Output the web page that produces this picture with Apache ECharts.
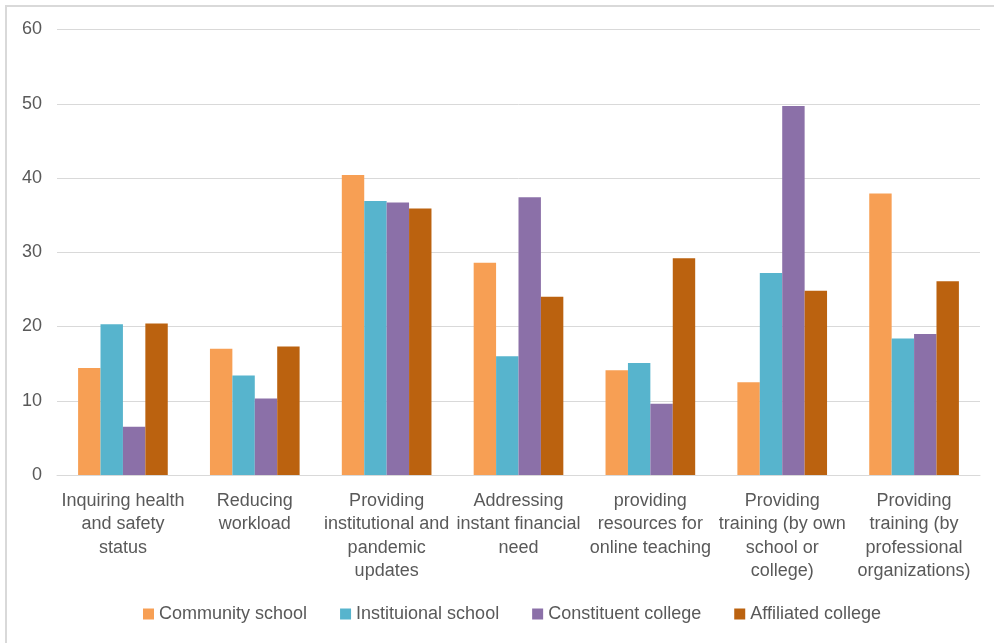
<!DOCTYPE html>
<html>
<head>
<meta charset="utf-8">
<script src="https://cdn.jsdelivr.net/npm/echarts@6/dist/echarts.min.js"></script>
<style>
html,body{margin:0;padding:0;background:#fff;}
#chart{width:994px;height:643px;}
</style>
</head>
<body>
<div id="chart"></div>
<script>
const categories = [
  "Inquiring health\nand safety\nstatus",
  "Reducing\nworkload",
  "Providing\ninstitutional and\npandemic\nupdates",
  "Addressing\ninstant financial\nneed",
  "providing\nresources for\nonline teaching",
  "Providing\ntraining (by own\nschool or\ncollege)",
  "Providing\ntraining (by\nprofessional\norganizations)"
];
const seriesNames = ["Community school", "Instituional school", "Constituent college", "Affiliated college"];
const communitySchool = [14.4, 17.0, 40.4, 28.6, 14.1, 12.5, 37.9];
const institutionalSchool = [20.3, 13.4, 36.9, 16.0, 15.1, 27.2, 18.4];
const constituentCollege = [6.5, 10.3, 36.7, 37.4, 9.6, 49.7, 19.0];
const affiliatedCollege = [20.4, 17.3, 35.9, 24.0, 29.2, 24.8, 26.1];
const yTicks = [0, 10, 20, 30, 40, 50, 60];

const colors = ["#F79F54", "#57B4CD", "#8B70A8", "#BB620F"];
const dataSets = [communitySchool, institutionalSchool, constituentCollege, affiliatedCollege];
const fontFamily = "Liberation Sans, Arial, sans-serif";
const textColor = "#595959";

const chart = echarts.init(document.getElementById('chart'), null, {renderer: 'canvas'});
chart.setOption({
  animation: false,
  backgroundColor: '#ffffff',
  color: colors,
  graphic: [{
    type: 'polyline',
    shape: {points: [[6, 650], [6, 6], [1000, 6]]},
    style: {stroke: '#D9D9D9', lineWidth: 2, fill: null}
  }],
  grid: {left: 57, right: 14, top: 29.5, bottom: 168, containLabel: false},
  legend: {
    bottom: 15,
    left: 138,
    itemWidth: 11,
    itemHeight: 11,
    itemGap: 33,
    icon: 'rect',
    textStyle: {color: textColor, fontSize: 18, fontFamily: fontFamily},
    data: seriesNames
  },
  xAxis: {
    type: 'category',
    data: categories,
    axisLine: {show: true, lineStyle: {color: '#D9D9D9', width: 1}},
    axisTick: {show: false},
    axisLabel: {
      interval: 0,
      color: textColor,
      fontSize: 18,
      fontFamily: fontFamily,
      lineHeight: 23.5,
      margin: 14
    }
  },
  yAxis: {
    type: 'value',
    min: 0,
    max: 60,
    interval: 10,
    axisLine: {show: false},
    axisTick: {show: false},
    splitLine: {lineStyle: {color: '#D9D9D9', width: 1}},
    axisLabel: {
      color: textColor,
      fontSize: 18,
      fontFamily: fontFamily,
      margin: 15,
      formatter: function (v) { return yTicks.indexOf(v) >= 0 ? String(v) : ''; }
    }
  },
  series: seriesNames.map((name, i) => ({
    name: name,
    type: 'bar',
    data: dataSets[i],
    barGap: '0%',
    barCategoryGap: '32%',
    itemStyle: {color: colors[i]}
  }))
});
</script>
</body>
</html>
